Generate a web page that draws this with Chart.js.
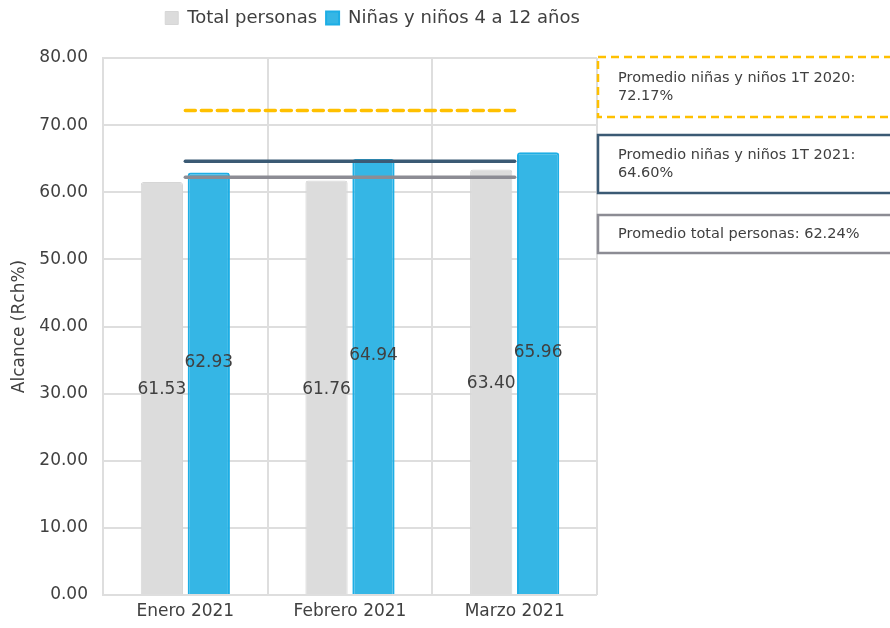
<!DOCTYPE html>
<html>
<head>
<meta charset="utf-8">
<script src="https://cdn.jsdelivr.net/npm/chart.js@4/dist/chart.umd.min.js"></script>
<style>
  html, body { margin: 0; padding: 0; background: #ffffff; }
  #wrap { width: 890px; height: 628px; position: relative; }
</style>
</head>
<body>
<div id="wrap"><canvas id="chart" width="890" height="628"></canvas></div>
<script>
const months = ['Enero 2021', 'Febrero 2021', 'Marzo 2021'];
const totalPersonas = [61.53, 61.76, 63.40];
const ninosNinas = [62.93, 64.94, 65.96];
const promedioNinos2020 = 72.17;
const promedioNinos2021 = 64.60;
const promedioTotal = 62.24;
const yTicks = [0, 10, 20, 30, 40, 50, 60, 70, 80];

const FONT = '"DejaVu Sans", sans-serif';
const TEXT = '#404040';

// extra room below the legend, and the legend nudged to the right
const legendPlace = {
  id: 'legendPlace',
  beforeInit(chart) {
    const fit = chart.legend.fit;
    chart.legend.fit = function () {
      fit.call(this);
      this.height += 21;
    };
  },
  afterLayout(chart) {
    chart.legend.left += 71;
    chart.legend.right += 71;
  }
};

// bar value labels: grey ones at the middle of the bar, blue ones slightly higher
const barLabels = {
  id: 'barLabels',
  afterDatasetsDraw(chart) {
    const ctx = chart.ctx;
    ctx.save();
    ctx.font = '17px ' + FONT;
    ctx.fillStyle = TEXT;
    ctx.textAlign = 'center';
    ctx.textBaseline = 'middle';
    [0, 1].forEach(di => {
      const meta = chart.getDatasetMeta(di);
      meta.data.forEach((bar, i) => {
        const v = chart.data.datasets[di].data[i];
        const mid = (bar.y + bar.base) / 2;
        const y = di === 0 ? mid + 2 : mid - 21;
        ctx.fillText(v.toFixed(2), bar.x, y);
      });
    });
    ctx.restore();
  }
};

// boxes to the right of the plot naming the reference lines
const noteBoxes = {
  id: 'noteBoxes',
  afterDraw(chart) {
    const ctx = chart.ctx;
    const x = chart.chartArea.right + 1;
    const notes = [
      { top: 57, h: 60, color: '#ffc000', dash: [8, 5], lines: ['Promedio niñas y niños 1T 2020:', promedioNinos2020.toFixed(2) + '%'] },
      { top: 135, h: 58, color: '#3b5a74', dash: [], lines: ['Promedio niñas y niños 1T 2021:', promedioNinos2021.toFixed(2) + '%'] },
      { top: 215, h: 38, color: '#8c8c94', dash: [], lines: ['Promedio total personas: ' + promedioTotal.toFixed(2) + '%'] }
    ];
    ctx.save();
    notes.forEach(n => {
      ctx.lineWidth = 2.5;
      ctx.strokeStyle = n.color;
      ctx.setLineDash(n.dash);
      ctx.strokeRect(x, n.top, 310, n.h);
      ctx.setLineDash([]);
      ctx.fillStyle = TEXT;
      ctx.font = '14.5px ' + FONT;
      ctx.textAlign = 'left';
      ctx.textBaseline = 'middle';
      const lh = 18;
      const start = n.top + n.h / 2 - (n.lines.length - 1) * lh / 2;
      n.lines.forEach((t, k) => ctx.fillText(t, x + 20, start + k * lh));
    });
    ctx.restore();
  }
};

const flat = v => months.map(() => v);

new Chart(document.getElementById('chart'), {
  data: {
    labels: months,
    datasets: [
      {
        type: 'bar', label: 'Total personas', data: totalPersonas,
        backgroundColor: '#dcdcdc', borderColor: '#d6d6d6', borderWidth: 1,
        borderRadius: { topLeft: 3, topRight: 3 }, borderSkipped: 'bottom', order: 2,
        categoryPercentage: 0.57, barPercentage: 0.9
      },
      {
        type: 'bar', label: 'Niñas y niños 4 a 12 años', data: ninosNinas,
        backgroundColor: '#35b6e5', borderColor: '#1daee5', borderWidth: 2,
        borderRadius: { topLeft: 3, topRight: 3 }, borderSkipped: 'bottom', order: 2,
        categoryPercentage: 0.57, barPercentage: 0.9
      },
      {
        type: 'line', label: 'Promedio niñas y niños 1T 2020', data: flat(promedioNinos2020),
        borderColor: '#ffc000', borderWidth: 3.5, borderDash: [10, 6], borderCapStyle: 'round',
        pointRadius: 0, order: 0
      },
      {
        type: 'line', label: 'Promedio niñas y niños 1T 2021', data: flat(promedioNinos2021),
        borderColor: '#3b5a74', borderWidth: 3.5, borderCapStyle: 'round',
        pointRadius: 0, order: 0
      },
      {
        type: 'line', label: 'Promedio total personas', data: flat(promedioTotal),
        borderColor: '#8c8c94', borderWidth: 3.5, borderCapStyle: 'round',
        pointRadius: 0, order: 1
      }
    ]
  },
  options: {
    responsive: false,
    animation: false,
    layout: { padding: { top: 0, right: 293, bottom: 0, left: 6 } },
    plugins: {
      legend: {
        position: 'top',
        align: 'center',
        labels: {
          filter: item => item.datasetIndex < 2,
          boxWidth: 13, boxHeight: 13, color: TEXT, padding: 9,
          font: { family: FONT, size: 18 }
        }
      },
      tooltip: { enabled: false }
    },
    scales: {
      x: {
        grid: { offset: true, color: '#dedede', lineWidth: 2, drawTicks: false },
        border: { display: false },
        ticks: { color: TEXT, font: { family: FONT, size: 17 }, padding: 6 },
        afterFit: s => { s.height = 33; }
      },
      y: {
        min: 0, max: 80,
        afterBuildTicks: s => { s.ticks = yTicks.map(v => ({ value: v })); },
        grid: { color: '#dedede', lineWidth: 2, drawTicks: false },
        border: { color: '#dedede', width: 2 },
        ticks: { color: TEXT, font: { family: FONT, size: 17 }, padding: 15, callback: v => Number(v).toFixed(2) },
        title: { display: true, text: 'Alcance (Rch%)', color: TEXT, font: { family: FONT, size: 17 }, padding: 3 },
        afterFit: s => { s.width = 97; }
      }
    }
  },
  plugins: [legendPlace, barLabels, noteBoxes]
});
</script>
</body>
</html>
